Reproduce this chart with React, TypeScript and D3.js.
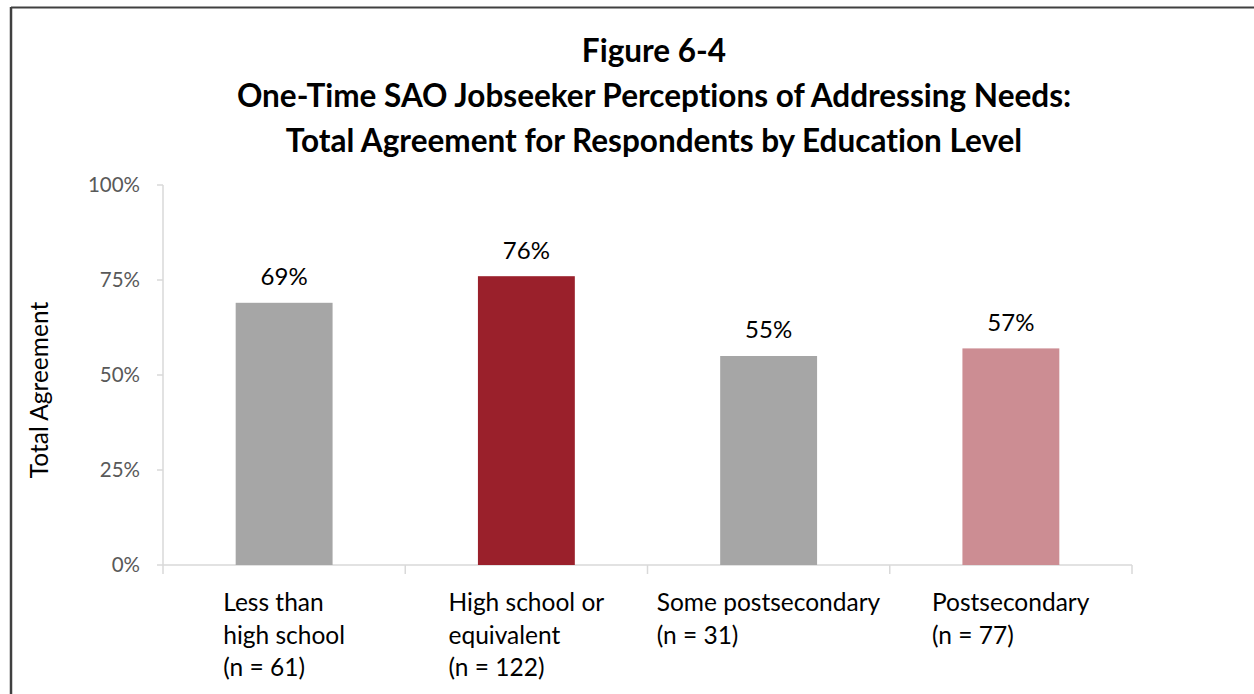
import React, { useMemo } from "react";
import * as d3 from "d3";

// Education-level breakdown of total agreement
const categories: string[][] = [
  ["Less than", "high school", "(n = 61)"],
  ["High school or", "equivalent", "(n = 122)"],
  ["Some postsecondary", "(n = 31)"],
  ["Postsecondary", "(n = 77)"],
];
const agreement: number[] = [0.69, 0.76, 0.55, 0.57];
const barColors: string[] = ["#A6A6A6", "#9A202B", "#A6A6A6", "#CC8D93"];
const yTicks: number[] = [0, 0.25, 0.5, 0.75, 1];
const titleLines: string[] = [
  "Figure 6-4",
  "One-Time SAO Jobseeker Perceptions of Addressing Needs:",
  "Total Agreement for Respondents by Education Level",
];
const yAxisTitle = "Total Agreement";

const W = 1254;
const H = 694;
const FONT = "Lato, 'Open Sans', sans-serif";
const NOLIG = { fontVariantLigatures: "none" as const };

export default function App() {
  const plot = { left: 163, right: 1132, top: 185, bottom: 565 };

  const x = useMemo(
    () =>
      d3
        .scaleBand<number>()
        .domain(d3.range(categories.length))
        .range([plot.left, plot.right])
        .paddingInner(0.6)
        .paddingOuter(0.3),
    []
  );
  const y = useMemo(
    () => d3.scaleLinear().domain([0, 1]).range([plot.bottom, plot.top]),
    []
  );
  const fmt = d3.format(".0%");
  const step = x.step();
  const bandEdges = d3.range(categories.length + 1).map((i) => plot.left + i * step);

  return (
    <svg
      width={W}
      height={H}
      viewBox={`0 0 ${W} ${H}`}
      style={{ position: "absolute", left: 0, top: 0, background: "#fff", ...NOLIG }}
    >
      {/* outer frame */}
      <line x1={11} y1={7.5} x2={W} y2={7.5} stroke="#404040" strokeWidth={2} />
      <line x1={11} y1={7} x2={11} y2={H} stroke="#404040" strokeWidth={2.5} />

      {/* title */}
      <g fontFamily={FONT} fontWeight={700} fontSize={31.5} fill="#000" textAnchor="middle">
        {titleLines.map((t, i) => (
          <text key={i} x={654} y={62 + i * 45}>
            {t}
          </text>
        ))}
      </g>

      {/* y axis */}
      <line x1={plot.left} y1={plot.top} x2={plot.left} y2={plot.bottom} stroke="#D9D9D9" strokeWidth={1.5} />
      {yTicks.map((t) => (
        <g key={t}>
          <line x1={plot.left - 6} x2={plot.left} y1={y(t)} y2={y(t)} stroke="#D9D9D9" strokeWidth={1.5} />
          <text
            x={140}
            y={y(t)}
            dy="0.35em"
            textAnchor="end"
            fontFamily={FONT}
            fontSize={20.5}
            fill="#595959"
          >
            {fmt(t)}
          </text>
        </g>
      ))}
      <text
        transform={`translate(39, ${(plot.top + plot.bottom) / 2 + 15}) rotate(-90)`}
        textAnchor="middle"
        dy="0.35em"
        fontFamily={FONT}
        fontSize={24.5}
        fill="#000"
      >
        {yAxisTitle}
      </text>

      {/* x axis */}
      <line x1={plot.left} y1={plot.bottom} x2={plot.right} y2={plot.bottom} stroke="#D9D9D9" strokeWidth={1.5} />
      {bandEdges.map((bx, i) => (
        <line key={i} x1={bx} x2={bx} y1={plot.bottom} y2={plot.bottom + 9} stroke="#D9D9D9" strokeWidth={1.5} />
      ))}

      {/* bars and value labels */}
      {agreement.map((v, i) => (
        <g key={i}>
          <rect
            x={x(i)!}
            y={y(v)}
            width={x.bandwidth()}
            height={y(0) - y(v)}
            fill={barColors[i]}
          />
          <text
            x={x(i)! + x.bandwidth() / 2}
            y={y(v) - 26}
            dy="0.35em"
            textAnchor="middle"
            fontFamily={FONT}
            fontSize={24}
            fill="#000"
          >
            {fmt(v)}
          </text>
        </g>
      ))}

      {/* category labels: lines left-aligned, block centred in band */}
      {categories.map((lines, i) => (
        <CategoryLabel key={i} lines={lines} cx={x(i)! + x.bandwidth() / 2} baseline={611} />
      ))}
    </svg>
  );
}

function CategoryLabel({ lines, cx, baseline }: { lines: string[]; cx: number; baseline: number }) {
  const ref = React.useRef<SVGGElement>(null);
  const [offset, setOffset] = React.useState(0);
  React.useLayoutEffect(() => {
    if (ref.current) {
      const w = ref.current.getBBox().width;
      setOffset(w / 2);
    }
  }, []);
  return (
    <g ref={ref} transform={`translate(${cx - offset}, 0)`} fontFamily={FONT} fontSize={24.5} fill="#000">
      {lines.map((l, j) => (
        <text key={j} x={0} y={baseline + j * 32.5}>
          {l}
        </text>
      ))}
    </g>
  );
}
